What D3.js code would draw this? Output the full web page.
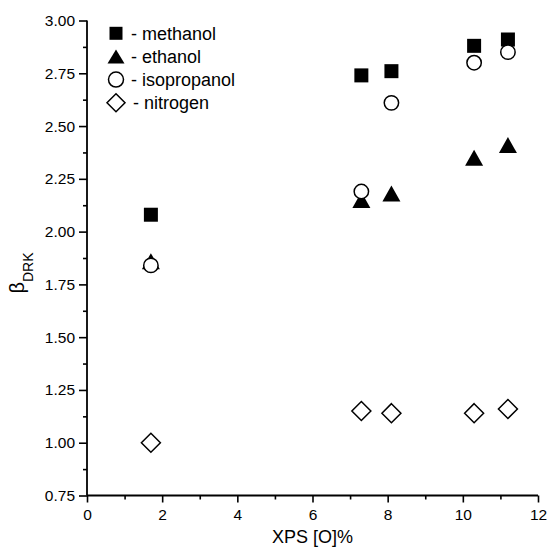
<!DOCTYPE html>
<html>
<head>
<meta charset="utf-8">
<script src="https://cdn.jsdelivr.net/npm/d3@7"></script>
<style>
  html, body { margin: 0; padding: 0; background: #fff; }
  svg { display: block; }
  text { font-family: "Liberation Sans", Arial, sans-serif; fill: #000; }
</style>
</head>
<body>
<script>
// ---- data ----
const xValues = [1.7, 7.3, 8.1, 10.3, 11.2];
const methanol = [2.08, 2.74, 2.76, 2.88, 2.91];
const ethanol = [1.86, 2.15, 2.18, 2.35, 2.41];
const isopropanol = [1.84, 2.19, 2.61, 2.80, 2.85];
const nitrogen = [1.00, 1.15, 1.14, 1.14, 1.16];
const seriesNames = ["- methanol", "- ethanol", "- isopropanol", "- nitrogen"];
const xTicks = [0, 2, 4, 6, 8, 10, 12];
const yTicks = [0.75, 1.00, 1.25, 1.50, 1.75, 2.00, 2.25, 2.50, 2.75, 3.00];

const W = 548, H = 549;
const svg = d3.select("body").append("svg").attr("width", W).attr("height", H);

const x = d3.scaleLinear().domain([0, 12]).range([87, 538]);
const y = d3.scaleLinear().domain([0.75, 3.0]).range([495.5, 20.5]);

// axes
const xAxis = d3.axisBottom(x).tickValues(xTicks).tickFormat(d3.format("d")).tickSize(7).tickPadding(4);
const xMinor = d3.axisBottom(x).tickValues(d3.range(1, 12, 2)).tickFormat("").tickSize(4);
const yAxis = d3.axisLeft(y).tickValues(yTicks).tickFormat(d3.format(".2f")).tickSize(8).tickPadding(4);
const yMinor = d3.axisLeft(y).tickValues(d3.range(0.875, 3.0, 0.25)).tickFormat("").tickSize(4);

function style(g) {
  g.select(".domain").attr("stroke", "#000").attr("stroke-width", 1.8);
  g.selectAll(".tick line").attr("stroke", "#000").attr("stroke-width", 1.6);
  g.selectAll(".tick text").style("font-size", "15.5px").attr("fill", "#000");
}

svg.append("g").attr("transform", `translate(0,${y(0.75)})`).call(xMinor).call(style).select(".domain").remove();
svg.append("g").attr("transform", `translate(${x(0)},0)`).call(yMinor).call(style).select(".domain").remove();
const gx = svg.append("g").attr("transform", `translate(0,${y(0.75)})`).call(xAxis).call(style);
gx.select(".domain").attr("d", `M${x(0)},0H${x(12)}`);
const gy = svg.append("g").attr("transform", `translate(${x(0)},0)`).call(yAxis).call(style);
gy.select(".domain").attr("d", `M0,${y(0.75)}V${y(3.0)}`);
gx.selectAll(".tick text").attr("dy", "0.9em");

// axis labels
svg.append("text").attr("x", (x(0) + x(12)) / 2).attr("y", 543)
  .attr("text-anchor", "middle").style("font-size", "18px").text("XPS [O]%");

const yl = svg.append("text")
  .attr("transform", `translate(24,${(y(0.75) + y(3.0)) / 2 + 15}) rotate(-90)`)
  .attr("text-anchor", "middle").style("font-size", "20px");
yl.append("tspan").text("β");
yl.append("tspan").attr("dy", 9).style("font-size", "14px").text("DRK");

// marker shapes
const square = s => `M${-s/2},${-s/2}h${s}v${s}h${-s}Z`;
const tri = (w, h) => `M0,${-h/2}L${w/2},${h/2}L${-w/2},${h/2}Z`;
const diamond = r => `M0,${-r}L${r},0L0,${r}L${-r},0Z`;
const circle = r => `M${r},0A${r},${r} 0 1,1 ${-r},0A${r},${r} 0 1,1 ${r},0Z`;

const series = [
  { vals: methanol, d: square(14), fill: "#000", stroke: "none" },
  { vals: ethanol, d: tri(18, 16), fill: "#000", stroke: "none" },
  { vals: isopropanol, d: circle(7.2), fill: "#fff", stroke: "#000" },
  { vals: nitrogen, d: diamond(9.5), fill: "#fff", stroke: "#000" }
];

series.forEach(s => {
  svg.append("g").selectAll("path").data(s.vals).join("path")
    .attr("transform", (v, i) => `translate(${x(xValues[i])},${y(v)})`)
    .attr("d", s.d).attr("fill", s.fill).attr("stroke", s.stroke).attr("stroke-width", 1.5);
});

// legend
const legY = d3.scaleLinear().domain([0, 3]).range([33.3, 102.7]);
const legSym = [square(13), tri(17, 14), circle(7.5), diamond(9)];
series.forEach((s, i) => {
  svg.append("path").attr("transform", `translate(116,${legY(i)})`)
    .attr("d", legSym[i]).attr("fill", s.fill).attr("stroke", s.stroke).attr("stroke-width", 1.5);
  svg.append("text").attr("x", i === 3 ? 133 : 131).attr("y", legY(i) + 6.5)
    .style("font-size", "18px").text(seriesNames[i]);
});
</script>
</body>
</html>
